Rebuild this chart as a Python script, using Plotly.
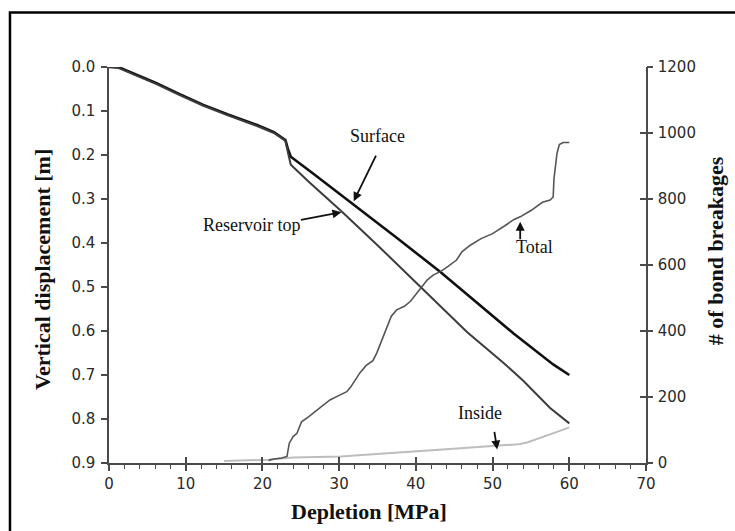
import plotly.graph_objects as go

# ---- data ----
surface_x = [0, 1.2, 3.5, 6.2, 9.0, 12.3, 15.5, 19.3, 21.5, 23.0, 23.3, 23.7, 26.6, 31.9, 37.5, 43.2, 48.4, 52.7, 57.9, 60.0]
surface_y = [0, 0.0, 0.017, 0.037, 0.060, 0.086, 0.108, 0.132, 0.148, 0.166, 0.185, 0.204, 0.242, 0.312, 0.388, 0.466, 0.543, 0.605, 0.676, 0.700]

reservoir_x = [0, 1.2, 3.5, 6.2, 9.0, 12.3, 15.5, 19.3, 21.5, 23.0, 23.4, 23.7, 26.0, 30.3, 35.0, 40.3, 46.7, 51.4, 54.0, 57.5, 60.0]
reservoir_y = [0, 0.002, 0.019, 0.039, 0.062, 0.088, 0.110, 0.134, 0.150, 0.168, 0.200, 0.222, 0.260, 0.328, 0.405, 0.494, 0.603, 0.672, 0.713, 0.775, 0.810]

total_x = [20.8, 21.5, 22.5, 23.2, 23.5, 24.0, 24.5, 25.1, 26.0, 27.1, 28.0, 28.8, 30.0, 31.0, 31.5, 32.2, 32.7, 33.5,
           34.4, 34.9, 35.5, 36.2, 36.8, 37.5, 38.5, 39.3, 40.5, 41.5, 42.3, 43.2, 44.2, 45.3, 46.0, 47.1, 48.5, 50.0,
           51.6, 52.8, 53.6, 55.0, 56.5, 57.5, 57.9, 58.0, 58.2, 58.4, 58.7, 59.2, 60.0]
total_y = [8, 12, 15, 20, 60, 80, 90, 125, 140, 161, 178, 191, 205, 216, 230, 255, 273, 295,
           310, 333, 370, 413, 445, 464, 475, 490, 524, 555, 570, 580, 596, 615, 640, 660, 680, 695,
           719, 738, 746, 765, 790, 797, 806, 860, 900, 938, 965, 971, 971]

inside_x = [15, 17.5, 20.8, 24, 27, 30.2, 33, 35.8, 38, 40.6, 43.5, 46.7, 49, 50.3, 51.5, 53.4, 54.5, 55.8, 57.5, 58.5, 60]
inside_y = [6, 7, 10, 17, 18, 20, 24, 29, 32, 36, 41, 46, 50, 52, 55, 57, 62, 72, 85, 95, 108]

x_ticks = [0, 10, 20, 30, 40, 50, 60, 70]
left_ticks = [0.0, 0.1, 0.2, 0.3, 0.4, 0.5, 0.6, 0.7, 0.8, 0.9]
right_ticks = [0, 200, 400, 600, 800, 1000, 1200]

TICKFONT = dict(family="DejaVu Sans", size=15, color="#2a2a2a")
SERIF = "Liberation Serif, Times New Roman, serif"
AX = "#4a4a4a"

fig = go.Figure()
fig.add_trace(go.Scatter(x=surface_x, y=surface_y, mode="lines", line=dict(color="#111111", width=2.6),
                         xaxis="x", yaxis="y", showlegend=False))
fig.add_trace(go.Scatter(x=reservoir_x, y=reservoir_y, mode="lines", line=dict(color="#3c3c3c", width=2.0),
                         xaxis="x", yaxis="y", showlegend=False))
fig.add_trace(go.Scatter(x=inside_x, y=inside_y, mode="lines", line=dict(color="#bdbdbd", width=2.0),
                         xaxis="x", yaxis="y2", showlegend=False))
fig.add_trace(go.Scatter(x=total_x, y=total_y, mode="lines", line=dict(color="#555555", width=1.6),
                         xaxis="x", yaxis="y2", showlegend=False))
# empty trace to hold tick-only overlay axes
fig.add_trace(go.Scatter(x=[None], y=[None], mode="lines", xaxis="x2", yaxis="y3",
                         showlegend=False, hoverinfo="skip"))

fig.update_layout(
    width=735, height=531,
    margin=dict(l=109, r=89, t=67, b=68),
    paper_bgcolor="white", plot_bgcolor="white",
    xaxis=dict(range=[0, 70], tickvals=x_ticks, showgrid=False, zeroline=False,
               showline=True, linecolor=AX, linewidth=1.5,
               ticks="outside", ticklen=6, tickwidth=1.5, tickcolor=AX,
               minor=dict(dtick=2, ticks="outside", ticklen=4, tickwidth=1.2, tickcolor=AX, showgrid=False),
               tickfont=TICKFONT),
    xaxis2=dict(range=[0, 70], tickvals=x_ticks, overlaying="x", anchor="y3", side="bottom",
                showgrid=False, zeroline=False, showline=False, showticklabels=False,
                ticks="inside", ticklen=6, tickwidth=1.5, tickcolor=AX),
    yaxis=dict(range=[0.9, 0], tickvals=left_ticks, tickformat=".1f", showgrid=False, zeroline=False,
               showline=True, linecolor=AX, linewidth=1.5, ticklabelstandoff=3,
               ticks="outside", ticklen=6, tickwidth=1.5, tickcolor=AX, tickfont=TICKFONT),
    yaxis2=dict(range=[0, 1200], tickvals=right_ticks, overlaying="y", side="right", anchor="x",
                showgrid=False, zeroline=False, showline=True, linecolor=AX, linewidth=1.5,
                ticklabelstandoff=7,
                ticks="inside", ticklen=6, tickwidth=1.5, tickcolor=AX, tickfont=TICKFONT),
    yaxis3=dict(range=[0, 1200], tickvals=right_ticks, overlaying="y", side="right", anchor="x2",
                showgrid=False, zeroline=False, showline=False, showticklabels=False,
                ticks="outside", ticklen=6, tickwidth=1.5, tickcolor=AX),
)

# axis titles
title_font = dict(family=SERIF, size=22, color="#111111")
fig.add_annotation(text="<b>Vertical displacement [m]</b>", xref="paper", yref="paper",
                   x=-0.123, y=0.49, textangle=-90, showarrow=False, font=title_font,
                   xanchor="center", yanchor="middle")
fig.add_annotation(text="<b># of bond breakages</b>", xref="paper", yref="paper",
                   x=1.1285, y=0.535, textangle=-90, showarrow=False, font=title_font,
                   xanchor="center", yanchor="middle")
fig.add_annotation(text="<b>Depletion [MPa]</b>", xref="paper", yref="paper",
                   x=0.485, y=-0.123, showarrow=False, font=title_font,
                   xanchor="center", yanchor="middle")

# curve labels
lab_font = dict(family=SERIF, size=18, color="#111111")
fig.add_annotation(text="Surface", x=34.94, y=0.157, xref="x", yref="y", showarrow=False, font=lab_font)
fig.add_annotation(text="Reservoir top", x=18.51, y=0.359, xref="x", yref="y", showarrow=False, font=lab_font)
fig.add_annotation(text="Total", x=55.53, y=654, xref="x", yref="y2", showarrow=False, font=lab_font)
fig.add_annotation(text="Inside", x=48.36, y=151, xref="x", yref="y2", showarrow=False, font=lab_font)

# arrows (head at data point, tail offset in pixels)
arrow = dict(showarrow=True, text="", arrowhead=2, arrowsize=1, arrowwidth=1.8, arrowcolor="#111111",
             standoff=0, startstandoff=0)
fig.add_annotation(x=31.9, y=0.305, xref="x", yref="y", ax=23, ay=-47, **arrow)
fig.add_annotation(x=30.3, y=0.330, xref="x", yref="y", ax=-42, ay=8, **arrow)
fig.add_annotation(x=53.6, y=731, xref="x", yref="y2", ax=0, ay=19, **arrow)
fig.add_annotation(x=50.6, y=41, xref="x", yref="y2", ax=-3, ay=-19, **arrow)

# outer frame
fig.add_shape(type="rect", xref="paper", yref="paper", x0=-0.1844, x1=1.2, y0=-0.2, y1=1.1376,
              line=dict(color="black", width=2.5), fillcolor="rgba(0,0,0,0)", layer="above")

fig.write_html("out.html")
